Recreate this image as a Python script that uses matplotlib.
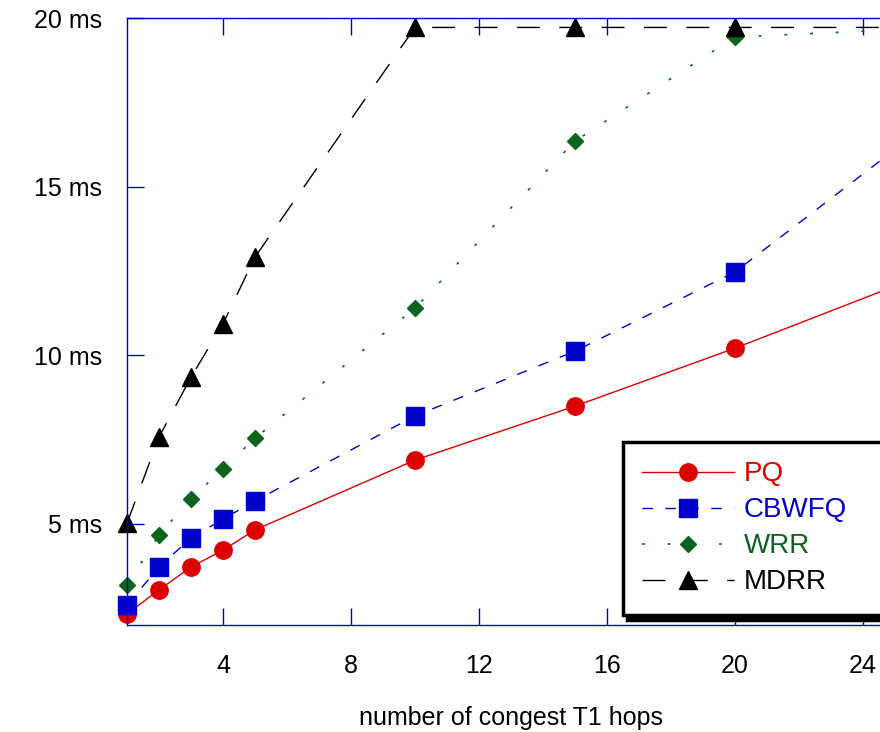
import matplotlib
matplotlib.use("Agg")
import matplotlib.pyplot as plt

# data
hops = [1, 2, 3, 4, 5, 10, 15, 20, 25]
pq = [2.33, 3.04, 3.72, 4.22, 4.82, 6.89, 8.49, 10.21, 12.05]
cbwfq = [2.59, 3.72, 4.58, 5.14, 5.68, 8.20, 10.12, 12.47, 16.10]
wrr = [3.19, 4.67, 5.74, 6.63, 7.54, 11.40, 16.35, 19.44, 19.65]
mdrr = [5.02, 7.57, 9.35, 10.93, 12.91, 19.72, 19.72, 19.72, 19.72]

xticks = [4, 8, 12, 16, 20, 24]
yticks = [5, 10, 15, 20]
ylabels = ['5 ms', '10 ms', '15 ms', '20 ms']

plt.rcParams['font.family'] = ['Liberation Sans', 'DejaVu Sans']
plt.rcParams['lines.scale_dashes'] = False

fig = plt.figure(figsize=(8.8, 7.32), dpi=100)
ax = fig.add_axes([127 / 880, 1 - 625 / 732, 768 / 880, 607 / 732])

red = '#dd0000'
blue = '#0000cc'
green = '#0a641e'

ax.plot(hops, pq, color=red, lw=1.0, marker='o', ms=12.5, mec=red, mfc=red,
        label='PQ', clip_on=False)
ax.plot(hops, cbwfq, color=blue, lw=1.0, dashes=(7.5, 9), marker='s', ms=13,
        mec=blue, mfc=blue, label='CBWFQ', clip_on=False)
ax.plot(hops, wrr, color=green, lw=1.2, dashes=(2, 16.5), marker='D', ms=8.5,
        mec=green, mfc=green, label='WRR', clip_on=False)
ax.plot(hops, mdrr, color='black', lw=1.0, dashes=(16.5, 14), marker='^', ms=12.5,
        mec='black', mfc='black', label='MDRR', clip_on=False)

ax.set_xlim(1, 25)
ax.set_ylim(2, 20)
ax.set_xticks(xticks)
ax.set_yticks(yticks)
ax.set_yticklabels(ylabels)

for side in ['left', 'top', 'bottom', 'right']:
    ax.spines[side].set_color(blue)
    ax.spines[side].set_linewidth(1.0)

ax.tick_params(axis='both', direction='in', length=12, width=1.0, color=blue,
               labelsize=18, pad=18)
ax.tick_params(axis='x', top=True, pad=21)
ax.tick_params(axis='y', right=False)

ax.set_xlabel('number of congest T1 hops', fontsize=18, labelpad=20)

leg = ax.legend(loc='upper left',
                bbox_to_anchor=(623 / 880, 1 - 616 / 732, 275 / 880, 174 / 732),
                bbox_transform=fig.transFigure, mode='expand', borderaxespad=0,
                fontsize=20, numpoints=1, handlelength=3.3, handletextpad=0.35,
                labelspacing=0.36, borderpad=0.7, fancybox=False,
                framealpha=1, edgecolor='black', labelcolor='linecolor',
                shadow={'ox': 3, 'oy': -4, 'facecolor': 'black',
                        'edgecolor': 'black', 'alpha': 1})
leg.get_frame().set_linewidth(2.5)

fig.savefig('out.png', dpi=100)
